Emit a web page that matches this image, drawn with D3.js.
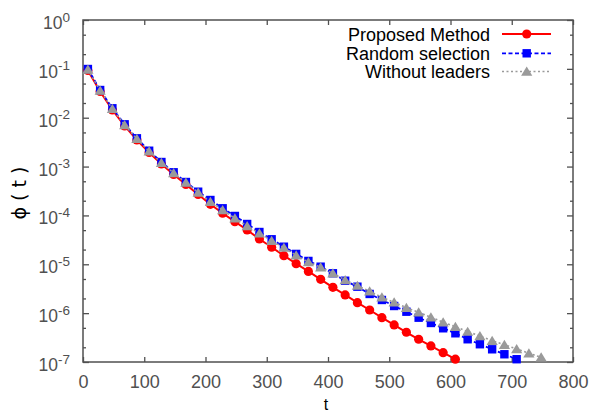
<!DOCTYPE html>
<html>
<head>
<meta charset="utf-8">
<script src="https://cdn.jsdelivr.net/npm/d3@7"></script>
<style>
  html, body { margin: 0; padding: 0; background: #fff; }
  svg { display: block; font-family: "Liberation Sans", Arial, sans-serif; }
</style>
</head>
<body>
<svg id="chart" width="593" height="414"></svg>
<script>
// ---- data ----
const tValues = [8,28,48,68,88,108,128,148,168,188,208,228,248,268,288,308,328,348,368,388,408,428,448,468,488,508,528,548,568,588,608,628,648,668,688,708,728,748];
const proposed = [9.26e-2,3.44e-2,1.44e-2,6.77e-3,3.50e-3,1.94e-3,1.13e-3,6.89e-4,4.30e-4,2.69e-4,1.69e-4,1.11e-4,7.45e-5,5.04e-5,3.30e-5,2.23e-5,1.50e-5,1.03e-5,7.13e-6,4.93e-6,3.38e-6,2.36e-6,1.64e-6,1.16e-6,8.07e-7,5.73e-7,4.06e-7,2.92e-7,2.13e-7,1.55e-7,1.14e-7];
const randomSel = [9.93e-2,3.69e-2,1.56e-2,7.33e-3,3.79e-3,2.11e-3,1.24e-3,7.64e-4,4.83e-4,3.06e-4,2.07e-4,1.40e-4,9.75e-5,6.68e-5,4.58e-5,3.25e-5,2.29e-5,1.63e-5,1.17e-5,8.93e-6,6.55e-6,4.61e-6,3.48e-6,2.47e-6,1.86e-6,1.40e-6,1.07e-6,8.07e-7,6.29e-7,4.90e-7,3.87e-7,2.92e-7,2.31e-7,1.82e-7,1.44e-7,1.14e-7];
const withoutLeaders = [9.7e-2,3.6e-2,1.52e-2,7.1e-3,3.7e-3,2.05e-3,1.2e-3,7.4e-4,4.7e-4,2.95e-4,1.91e-4,1.29e-4,8.75e-5,6.08e-5,4.31e-5,3.04e-5,2.19e-5,1.53e-5,1.11e-5,8.69e-6,6.55e-6,4.77e-6,3.65e-6,2.80e-6,2.11e-6,1.67e-6,1.29e-6,1.04e-6,8.22e-7,6.53e-7,5.28e-7,4.18e-7,3.41e-7,2.73e-7,2.26e-7,1.85e-7,1.51e-7,1.25e-7];
const seriesNames = ["Proposed Method", "Random selection", "Without leaders"];
const xTicks = [0,100,200,300,400,500,600,700,800];
const yMajorTicks = [1e-7,1e-6,1e-5,1e-4,1e-3,1e-2,1e-1,1];
const yMinorTicks = [2e-7,5e-7,2e-6,5e-6,2e-5,5e-5,2e-4,5e-4,2e-3,5e-3,2e-2,5e-2,2e-1,5e-1];
const yExponents = ["-7","-6","-5","-4","-3","-2","-1","0"];

// ---- layout ----
const L = 83, R = 573, T = 20, B = 362;
const axisColor = "#505050";
const svg = d3.select("#chart");

const x = d3.scaleLinear().domain([0, 800]).range([L, R]);
const y = d3.scaleLog().domain([1e-7, 1]).range([B, T]);

// axes
function styleAxis(g) {
  g.select(".domain").remove();
  g.selectAll(".tick line").attr("stroke", axisColor).attr("stroke-width", 1.3);
}
svg.append("g").attr("transform", `translate(0,${B})`)
  .call(d3.axisBottom(x).tickValues(xTicks).tickSizeInner(-5).tickSizeOuter(0).tickPadding(13))
  .call(styleAxis)
  .call(g => g.selectAll("text").attr("font-size", 18).attr("fill", "#505050")
       .attr("font-family", "Liberation Sans, Arial, sans-serif"));
svg.append("g").attr("transform", `translate(0,${T})`)
  .call(d3.axisTop(x).tickValues(xTicks).tickSizeInner(-5).tickSizeOuter(0).tickFormat(""))
  .call(styleAxis);

const yLeft = svg.append("g").attr("transform", `translate(${L},0)`)
  .call(d3.axisLeft(y).tickValues(yMajorTicks).tickSizeInner(-6).tickSizeOuter(0).tickFormat(""))
  .call(styleAxis);
svg.append("g").attr("transform", `translate(${L},0)`)
  .call(d3.axisLeft(y).tickValues(yMinorTicks).tickSizeInner(-3).tickSizeOuter(0).tickFormat(""))
  .call(styleAxis);
svg.append("g").attr("transform", `translate(${R},0)`)
  .call(d3.axisRight(y).tickValues(yMajorTicks).tickSizeInner(-6).tickSizeOuter(0).tickFormat(""))
  .call(styleAxis);
svg.append("g").attr("transform", `translate(${R},0)`)
  .call(d3.axisRight(y).tickValues(yMinorTicks).tickSizeInner(-3).tickSizeOuter(0).tickFormat(""))
  .call(styleAxis);

// y tick labels with superscripts
yLeft.selectAll(".tick").each(function(d) {
  const t = d3.select(this).append("text")
    .attr("x", -13).attr("y", 8.5)
    .attr("text-anchor", "end")
    .attr("fill", "#505050")
    .attr("font-size", 17.5);
  t.append("tspan").text("10");
  t.append("tspan").attr("font-size", 13.5).attr("dy", -7.5).text(yExponents[yMajorTicks.indexOf(d)]);
});

// frame
svg.append("rect").attr("x", L).attr("y", T).attr("width", R - L).attr("height", B - T)
  .attr("fill", "none").attr("stroke", axisColor).attr("stroke-width", 1.5);

// series
const series = [
  { name: seriesNames[0], values: proposed, color: "#ff0000", dash: null, width: 2, marker: "circle" },
  { name: seriesNames[1], values: randomSel, color: "#0000ff", dash: "4,2.5", width: 1.8, marker: "square" },
  { name: seriesNames[2], values: withoutLeaders, color: "#9a9a9a", dash: "2,2.5", width: 1.6, marker: "triangle" }
];

function drawMarker(g, type, color, cx, cy) {
  if (type === "circle") {
    g.append("circle").attr("cx", cx).attr("cy", cy).attr("r", 4.6).attr("fill", color);
  } else if (type === "square") {
    g.append("rect").attr("x", cx - 4.2).attr("y", cy - 4.2).attr("width", 8.4).attr("height", 8.4).attr("fill", color);
  } else {
    g.append("path").attr("d", `M${cx},${cy - 5} L${cx + 5.6},${cy + 4.2} L${cx - 5.6},${cy + 4.2} Z`).attr("fill", color);
  }
}

const line = d3.line().x(d => x(d[0])).y(d => y(d[1]));
series.forEach(s => {
  const pts = s.values.map((v, i) => [tValues[i], v]);
  const g = svg.append("g");
  g.append("path").attr("d", line(pts)).attr("fill", "none")
    .attr("stroke", s.color).attr("stroke-width", s.width)
    .attr("stroke-dasharray", s.dash);
  pts.forEach(p => drawMarker(g, s.marker, s.color, x(p[0]), y(p[1])));
});

// legend
const legendRows = [34, 53.3, 71.5];
series.forEach((s, i) => {
  const ly = legendRows[i];
  svg.append("text").attr("x", 490).attr("y", ly + 6.5).attr("text-anchor", "end")
    .attr("font-size", 18).attr("fill", "#000").text(s.name);
  svg.append("line").attr("x1", 502).attr("x2", 551).attr("y1", ly).attr("y2", ly)
    .attr("stroke", s.color).attr("stroke-width", s.width).attr("stroke-dasharray", s.dash);
  drawMarker(svg, s.marker, s.color, 526.7, ly);
});

// axis titles
svg.append("text").attr("transform", "translate(26,193) rotate(-90)")
  .attr("text-anchor", "middle").attr("font-size", 19).attr("fill", "#000")
  .attr("font-family", "DejaVu Sans, sans-serif")
  .text("ϕ ( t )");
svg.append("text").attr("x", 326).attr("y", 409.5).attr("text-anchor", "middle")
  .attr("font-size", 16).attr("fill", "#000").text("t");
</script>
</body>
</html>
